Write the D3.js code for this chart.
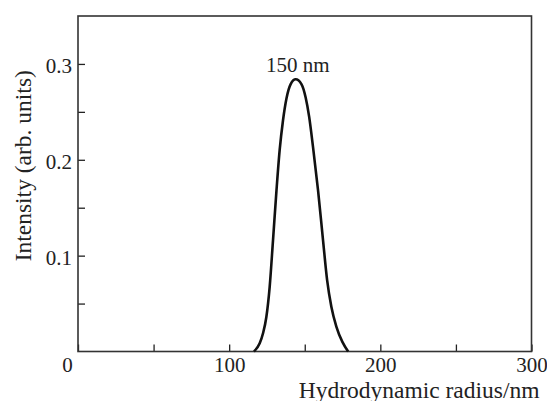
<!DOCTYPE html>
<html>
<head>
<meta charset="utf-8">
<script src="https://cdn.jsdelivr.net/npm/d3@7"></script>
<style>
  body { margin: 0; background: #fff; }
  text { font-family: "Liberation Serif", "Times New Roman", serif; fill: #222; }
</style>
</head>
<body>
<div id="chart"></div>
<script>
// hydrodynamic radius (nm) and intensity
const radius = [116.4, 120.2, 122.4, 124.6, 126.8, 129.0, 131.3, 133.4, 135.6, 137.9, 140.7, 144.0,
  147.8, 150.6, 152.9, 155.5, 158.8, 162.1, 164.8, 167.6, 170.9, 174.9, 178.7];
const intensity = [0, 0.0085, 0.019, 0.036, 0.0675, 0.116, 0.168, 0.210, 0.241, 0.264, 0.279, 0.284,
  0.279, 0.265, 0.245, 0.213, 0.168, 0.116, 0.0745, 0.0467, 0.026, 0.010, 0];
const xTicks = [0, 50, 100, 150, 200, 250, 300];
const xLabels = [0, 100, 200, 300];
const yTicks = [0.05, 0.1, 0.15, 0.2, 0.25, 0.3];
const yLabels = [0.1, 0.2, 0.3];
const peakLabel = '150 nm';

let margin = { top: 16, left: 78 },
  width = 453.5,
  height = 335.5;

var svg = d3
  .select('#chart')
  .append('svg')
  .attr('width', 547)
  .attr('height', 401)
  .append('g')
  .attr('transform', 'translate(' + margin.left + ',' + margin.top + ')');

var x = d3.scaleLinear().domain([0, 300]).range([0, width]);
var y = d3.scaleLinear().domain([0, 0.35]).range([height, 0]);

// inward ticks
var xAxis = svg
  .append('g')
  .attr('transform', 'translate(0,' + height + ')')
  .call(d3.axisBottom(x).tickValues(xTicks).tickSize(-7)
    .tickFormat((d) => (xLabels.includes(d) ? d : '')));
xAxis.select('.domain').remove();
xAxis.selectAll('.tick line').attr('stroke', '#222').attr('stroke-width', 1.3);
xAxis.selectAll('.tick text')
  .attr('y', 20.5)
  .attr('dy', 0)
  .style('font-size', '21px')
  .attr('dx', (d) => (d === 0 ? -11 : 0));

var yAxis = svg
  .append('g')
  .call(d3.axisLeft(y).tickValues(yTicks).tickSize(-7)
    .tickFormat((d) => (yLabels.some((v) => Math.abs(v - d) < 1e-9) ? d3.format('.1f')(d) : '')));
yAxis.select('.domain').remove();
yAxis.selectAll('.tick line').attr('stroke', '#222').attr('stroke-width', 1.3);
yAxis.selectAll('.tick text')
  .attr('x', -6)
  .attr('dy', '0.4em')
  .style('font-size', '21px');

// frame
svg.append('rect')
  .attr('width', width)
  .attr('height', height)
  .attr('fill', 'none')
  .attr('stroke', '#333')
  .attr('stroke-width', 1.6);

var line = d3.line()
  .x((d, i) => x(radius[i]))
  .y((d) => y(d))
  .curve(d3.curveMonotoneX);

svg.append('path')
  .datum(intensity)
  .attr('d', line)
  .attr('fill', 'none')
  .attr('stroke', '#111')
  .attr('stroke-width', 2.6)
  .attr('stroke-linejoin', 'round');

var iMax = d3.maxIndex(intensity);
svg.append('text')
  .attr('x', x(radius[iMax]) + 2)
  .attr('y', y(intensity[iMax]) - 7)
  .attr('text-anchor', 'middle')
  .style('font-size', '21px')
  .text(peakLabel);

svg.append('text')
  .attr('x', width + 8)
  .attr('y', height + 46)
  .attr('text-anchor', 'end')
  .style('font-size', '23.5px')
  .text('Hydrodynamic radius/nm');

svg.append('text')
  .attr('transform', 'translate(' + (-47) + ',' + (height / 2 - 18) + ') rotate(-90)')
  .attr('text-anchor', 'middle')
  .style('font-size', '23.5px')
  .text('Intensity (arb. units)');
</script>
</body>
</html>
